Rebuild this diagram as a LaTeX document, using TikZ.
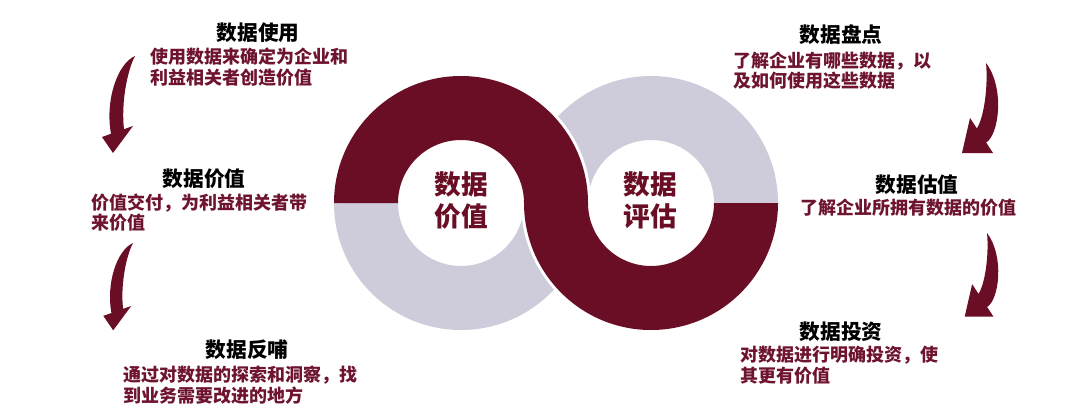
\documentclass[tikz,border=0pt]{standalone}
\usepackage{fontspec}
\newfontfamily\cjk{Noto Sans CJK SC}
\definecolor{wine}{RGB}{106,14,38}
\definecolor{winetxt}{RGB}{110,20,46}
\definecolor{ringgray}{RGB}{206,203,218}
\tikzset{
  titletext/.style={font=\cjk\bfseries\fontsize{15.5}{18}\selectfont, text=black, inner sep=0pt},
  desctext/.style={font=\cjk\bfseries\fontsize{13.5}{16}\selectfont, text=winetxt, inner sep=0pt, anchor=west},
  hubtext/.style={font=\cjk\bfseries\fontsize{20}{24}\selectfont, text=wine, inner sep=0pt, align=center},
  gap/.style={draw=white, line width=4.5pt},
  larrow/.pic={
    \fill[wine] (0,0) .. controls (-18,8) and (-30,45) .. (-24,77.8) -- (-33,81) -- (-22,97) -- (-2,70) -- (-11,73.2) .. controls (-14,48) and (-8,15) .. (0,0) -- cycle;
  },
  rarrow/.pic={
    \fill[wine] (0,0) .. controls (2,20) and (-1,52) .. (-9.1,65.5) -- (-16,55) -- (-24,90) -- (7,90) -- (0.1,79.5) .. controls (13,72) and (19,25) .. (0,0) -- cycle;
  }
}
\begin{document}
\begin{tikzpicture}[x=0.75pt, y=-0.75pt]
\useasboundingbox[fill=white] (0,0) rectangle (1080,417);

% gray halves
\fill[ringgray] (588,203) arc[start angle=0, end angle=180, radius=127] -- (398,203) arc[start angle=180, end angle=0, radius=63] -- cycle;
\fill[ringgray] (524,203) arc[start angle=180, end angle=360, radius=127] -- (714,203) arc[start angle=360, end angle=180, radius=63] -- cycle;

% white gaps along the dark band
\draw[gap] (334,203) arc[start angle=180, end angle=360, radius=127] arc[start angle=180, end angle=0, radius=63];
\draw[gap] (778,203) arc[start angle=0, end angle=180, radius=127] arc[start angle=360, end angle=180, radius=63];

% dark S band
\fill[wine] (334,203) arc[start angle=180, end angle=360, radius=127]
  arc[start angle=180, end angle=0, radius=63]
  -- (778,203) arc[start angle=0, end angle=180, radius=127]
  arc[start angle=360, end angle=180, radius=63] -- cycle;

% hub labels
\node[hubtext] (hubL) at (461,200) {数据\\价值};
\node[hubtext] (hubR) at (650,200) {数据\\评估};

% left column
\node[titletext] (t1) at (258,33) {数据使用};
\node[desctext] (d1a) at (150,57) {使用数据来确定为企业和};
\node[desctext] (d1b) at (150,78) {利益相关者创造价值};

\node[titletext] (t2) at (204,179) {数据价值};
\node[desctext] (d2a) at (91,203) {价值交付，为利益相关者带};
\node[desctext] (d2b) at (91,223) {来价值};

\node[titletext] (t3) at (247,350) {数据反哺};
\node[desctext] (d3a) at (123,375) {通过对数据的探索和洞察，找};
\node[desctext] (d3b) at (123,396) {到业务需要改进的地方};

% right column
\node[titletext] (t4) at (841,35) {数据盘点};
\node[desctext] (d4a) at (733,61) {了解企业有哪些数据，以};
\node[desctext] (d4b) at (733,81) {及如何使用这些数据};

\node[titletext] (t5) at (917,185) {数据估值};
\node[desctext] (d5a) at (800,208) {了解企业所拥有数据的价值};

\node[titletext] (t6) at (841,332) {数据投资};
\node[desctext] (d6a) at (740,355) {对数据进行明确投资，使};
\node[desctext] (d6b) at (740,376) {其更有价值};

% swoosh arrows
\pic at (135,56) {larrow};
\pic[scale=0.9] at (133,243) {larrow};
\pic at (986,63) {rarrow};
\pic[scale=0.93] at (987,233) {rarrow};
\end{tikzpicture}
\end{document}
